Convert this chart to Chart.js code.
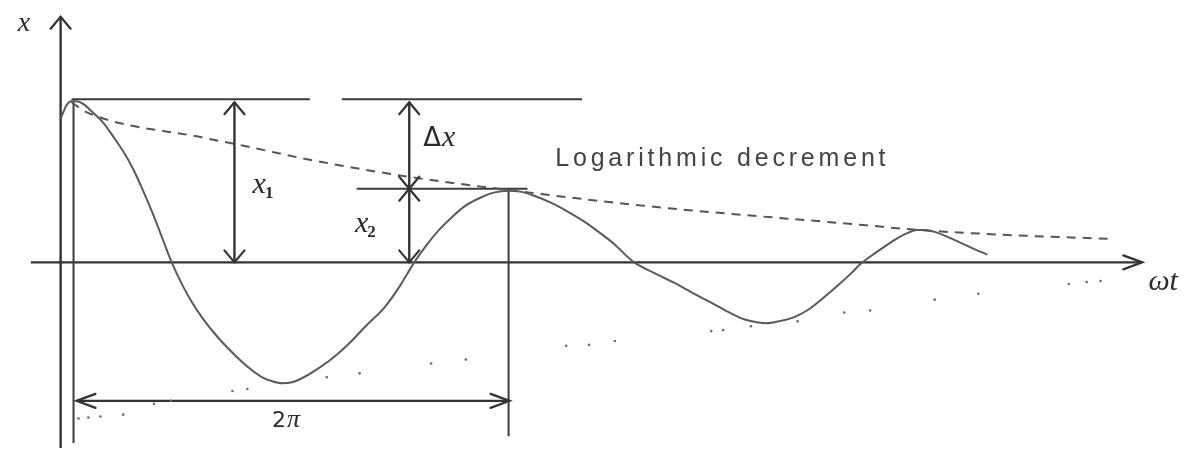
<!DOCTYPE html>
<html>
<head>
<meta charset="utf-8">
<script src="https://cdn.jsdelivr.net/npm/chart.js@4"></script>
<style>
  html, body { margin: 0; padding: 0; background: #fff; }
  #wrap { width: 1188px; height: 452px; position: relative; }
</style>
</head>
<body>
<div id="wrap"><canvas id="decayChart"></canvas></div>
<script>
// Damped oscillation x(ωt), x measured up from the ωt axis
const curveT = [57, 63, 68, 73, 80, 90, 100, 110, 120, 130, 140, 150, 160, 168, 180, 190, 200, 215, 230, 245,
                260, 270, 280, 290, 300, 318, 335, 350, 365, 383, 398, 413, 425, 438, 452, 465, 480, 493, 508,
                520, 533, 550, 567, 585, 600, 615, 633, 655, 675, 695, 712, 730, 745, 758, 768, 780, 795, 810,
                825, 840, 852, 862, 875, 888, 900, 910, 919, 928, 937, 950, 965, 978, 990];
const curveX = [146, 160, 164, 164, 161, 152, 142, 128, 113, 95, 73, 49, 23, 2, -24, -42, -57, -76, -92, -106,
                -117, -121, -123, -122, -118, -107, -94, -80, -64, -46, -25, 0, 17, 33, 47, 58, 66, 71, 73,
                72, 68, 61, 52, 41, 30, 18, 1, -11, -21, -32, -41, -51, -58, -61, -62, -60, -56, -48,
                -36, -23, -12, -2, 8, 17, 25, 30, 33, 33, 31, 26, 19, 13, 8];

// Envelope through the positive peaks (dashed)
const envelopeT = [68, 83, 200, 240, 300, 408, 505, 650, 865, 920, 1030, 1113];
const envelopeX = [163, 153, 127, 119, 106, 87, 74, 57, 38, 33, 27, 24];

// Negative-side envelope, drawn as loose dots
const lowerT = [75, 85, 97, 120, 151, 168, 230, 245, 325, 358, 430, 465, 566, 589, 615,
                712, 724, 752, 799, 846, 872, 937, 981, 1072, 1090, 1104];
const lowerX = [-159, -158, -157, -155, -144, -141, -131, -129, -117, -113, -103, -99, -85, -84, -80,
                -70, -69, -65, -60, -51, -49, -38, -32, -22, -20, -19];

// Plain guide lines: [[t0, x0], [t1, x1]]
const guideLines = [
  [[68, 166], [308, 166]],
  [[340, 166], [582, 166]],
  [[355, 75], [527, 75]],
  [[508, 75], [508, -177]],
  [[70, 163], [70, -184]]
];

// Arrows: coordinate axes and the dimension arrows
const arrows = [
  { from: [57, -189], to: [57, 250], both: false },   // x axis
  { from: [27, 0], to: [1146, 0], both: false },      // ωt axis
  { from: [232, 0], to: [232, 163], both: true },     // x1
  { from: [408, 75], to: [408, 163], both: true },    // Δx
  { from: [408, 0], to: [408, 75], both: true },      // x2
  { from: [73, -141], to: [509, -141], both: true }   // 2π
];

const zip = (a, b) => a.map((v, i) => ({ x: v, y: b[i] }));

const lineSet = (points, color, width, extra) => Object.assign({
  data: points,
  showLine: true,
  pointRadius: 0,
  borderColor: color,
  borderWidth: width,
  fill: false
}, extra || {});

const datasets = [
  lineSet(zip(curveT, curveX), '#5a5a5a', 2, { cubicInterpolationMode: 'monotone', borderJoinStyle: 'round' }),
  lineSet(zip(envelopeT, envelopeX), '#555', 2, { cubicInterpolationMode: 'monotone', borderDash: [9, 7] }),
  {
    data: zip(lowerT, lowerX),
    showLine: false,
    pointRadius: 1.3,
    pointBorderWidth: 0,
    pointBackgroundColor: '#6a6a6a'
  }
];
guideLines.forEach(g => {
  datasets.push(lineSet(g.map(p => ({ x: p[0], y: p[1] })), '#3c3c3c', 2));
});
arrows.forEach(a => {
  datasets.push(lineSet([{ x: a.from[0], y: a.from[1] }, { x: a.to[0], y: a.to[1] }], '#333', 2.4));
});

function drawHead(ctx, tip, tail, len, half) {
  const dx = tip[0] - tail[0], dy = tip[1] - tail[1];
  const d = Math.hypot(dx, dy);
  const ux = dx / d, uy = dy / d;
  const bx = tip[0] - ux * len, by = tip[1] - uy * len;
  ctx.beginPath();
  ctx.moveTo(bx - uy * half, by + ux * half);
  ctx.lineTo(tip[0], tip[1]);
  ctx.lineTo(bx + uy * half, by - ux * half);
  ctx.stroke();
}

const arrowHeads = {
  id: 'arrowHeads',
  afterDatasetsDraw(chart) {
    const { ctx, scales } = chart;
    const px = p => [scales.x.getPixelForValue(p[0]), scales.y.getPixelForValue(p[1])];
    ctx.save();
    ctx.strokeStyle = '#333';
    ctx.lineWidth = 2.2;
    ctx.lineCap = 'round';
    arrows.forEach(a => {
      const p0 = px(a.from), p1 = px(a.to);
      const horiz = Math.abs(p1[0] - p0[0]) > Math.abs(p1[1] - p0[1]);
      const len = horiz ? 19 : 12;
      const half = horiz ? 7 : 10;
      drawHead(ctx, p1, p0, len, half);
      if (a.both) drawHead(ctx, p0, p1, len, half);
    });
    ctx.restore();
  }
};

const SERIF = '"Liberation Serif", "DejaVu Serif", "Times New Roman", serif';

// Symbol labels; sub is drawn smaller and lower
const labels = [
  { t: 20, x: 236, text: 'x', size: 28 },
  { t: 257, x: 71, text: 'x', sub: '1', size: 30 },
  { t: 360, x: 31, text: 'x', sub: '2', size: 30 },
  { t: 432, x: 118, text: 'x', delta: true, size: 30 },
  { t: 286, x: -168, text: '2π', plain: true, size: 22 },
  { t: 1167, x: -28, text: 'ωt', size: 30 }
];

const textLabels = {
  id: 'textLabels',
  afterDraw(chart) {
    const { ctx, scales } = chart;
    ctx.save();
    ctx.fillStyle = '#2a2a2a';
    ctx.textBaseline = 'alphabetic';
    labels.forEach(l => {
      const cx = scales.x.getPixelForValue(l.t);
      const cy = scales.y.getPixelForValue(l.x);
      if (l.delta) {
        ctx.font = `${l.size - 4}px "DejaVu Sans"`;
        ctx.textAlign = 'right';
        ctx.fillText('Δ', cx + 8, cy);
        ctx.textAlign = 'left';
        ctx.font = `italic ${l.size}px ${SERIF}`;
        ctx.fillText(l.text, cx + 9, cy);
        return;
      }
      if (l.plain) {
        ctx.font = `${l.size}px "DejaVu Sans"`;
        const w2 = ctx.measureText('2').width;
        ctx.textAlign = 'left';
        ctx.fillText('2', cx - 16, cy);
        ctx.font = `italic ${l.size + 4}px ${SERIF}`;
        ctx.fillText('π', cx - 16 + w2 + 1, cy);
        return;
      }
      ctx.font = `italic ${l.size}px ${SERIF}`;
      ctx.textAlign = 'center';
      ctx.fillText(l.text, cx, cy);
      if (l.sub) {
        const w = ctx.measureText(l.text).width;
        ctx.font = `bold ${Math.round(l.size * 0.55)}px ${SERIF}`;
        ctx.textAlign = 'left';
        ctx.fillText(l.sub, cx + w / 2 - 1, cy + 5);
      }
    });

    // caption for the dashed envelope
    ctx.font = '25px "Liberation Sans", Arial, sans-serif';
    ctx.fillStyle = '#444';
    ctx.textAlign = 'left';
    ctx.textBaseline = 'middle';
    if ('letterSpacing' in ctx) ctx.letterSpacing = '3.8px';
    ctx.fillText('Logarithmic decrement', scales.x.getPixelForValue(555), scales.y.getPixelForValue(105));
    ctx.restore();
  }
};

new Chart(document.getElementById('decayChart'), {
  type: 'scatter',
  data: { datasets },
  options: {
    responsive: true,
    maintainAspectRatio: false,
    animation: false,
    layout: { padding: 0 },
    plugins: {
      legend: { display: false },
      tooltip: { enabled: false }
    },
    scales: {
      x: { type: 'linear', min: 0, max: 1188, display: false },
      y: { type: 'linear', min: -189, max: 263, display: false }
    }
  },
  plugins: [arrowHeads, textLabels]
});
</script>
</body>
</html>
